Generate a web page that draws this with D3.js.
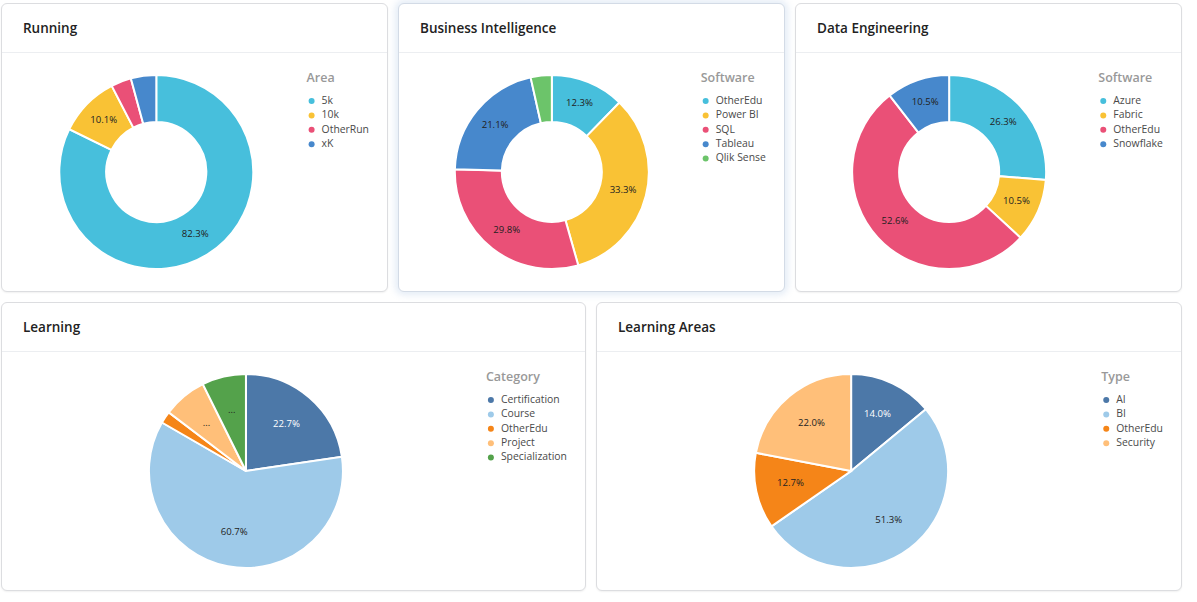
<!DOCTYPE html>
<html>
<head>
<meta charset="utf-8">
<script src="https://cdn.jsdelivr.net/npm/d3@7"></script>
<style>
  body { margin: 0; background: #fff; font-family: "Segoe UI", "Open Sans", "Noto Sans", sans-serif; }
  .card { position: absolute; background: #fff; border: 1px solid #dcdde0; border-radius: 6px;
          box-sizing: border-box; box-shadow: 0 1px 2px rgba(0,0,0,0.06); overflow: hidden; }
  .card.active { box-shadow: 0 0 7px 3px rgba(120,160,210,0.2); border-color: #d3dbe6; }
  .head { height: 49px; border-bottom: 1px solid #eceef1; box-sizing: border-box;
          padding-left: 21px; line-height: 48px; font-size: 13.5px; font-weight: 600; color: #222; }
  svg { display: block; }
</style>
</head>
<body>
<div id="board"></div>
<script>
// data
var runningCats = ["5k", "10k", "OtherRun", "xK"];
var runningVals = [195, 24, 8, 10];

var biCats = ["OtherEdu", "Power BI", "SQL", "Tableau", "Qlik Sense"];
var biVals = [7, 19, 17, 12, 2];

var deCats = ["Azure", "Fabric", "OtherEdu", "Snowflake"];
var deVals = [5, 2, 10, 2];

var learnCats = ["Certification", "Course", "OtherEdu", "Project", "Specialization"];
var learnVals = [34, 91, 3, 11, 11];

var areaCats = ["AI", "BI", "OtherEdu", "Security"];
var areaVals = [21, 77, 19, 33];

var donutColors = ["#47bfdc", "#f9c235", "#ea5077", "#4788cc", "#6cc46a"];
var pieColors = ["#4c78a8", "#9ecae9", "#f58518", "#ffbf79", "#54a24b"];

// layout of the board
var cardH = 289, headH = 49;
var board = d3.select("#board");

function luminance(c) {
  var rgb = d3.rgb(c);
  function ch(v) { v = v / 255; return v <= 0.03928 ? v / 12.92 : Math.pow((v + 0.055) / 1.055, 2.4); }
  return 0.2126 * ch(rgb.r) + 0.7152 * ch(rgb.g) + 0.0722 * ch(rgb.b);
}

function drawCard(opt) {
  var card = board.append("div")
    .attr("class", "card" + (opt.active ? " active" : ""))
    .style("left", opt.x + "px").style("top", opt.y + "px")
    .style("width", opt.w + "px").style("height", cardH + "px");
  card.append("div").attr("class", "head").text(opt.title);

  var bw = opt.w - 2, bh = cardH - headH - 2;
  var svg = card.append("svg").attr("width", bw).attr("height", bh);

  var color = d3.scaleOrdinal().domain(opt.cats).range(opt.colors);

  // legend, right aligned
  var legend = svg.append("g");
  legend.append("text")
    .attr("x", 0).attr("y", 26)
    .attr("dominant-baseline", "middle")
    .style("font-size", "12.5px").style("font-weight", 600).style("fill", "#999")
    .text(opt.legendTitle);
  var item = legend.selectAll("g.item").data(opt.cats).enter().append("g")
    .attr("class", "item")
    .attr("transform", function(d, i) { return "translate(0," + (48 + i * 14.4) + ")"; });
  item.append("circle").attr("cx", 5).attr("cy", 0).attr("r", 3).attr("fill", function(d) { return color(d); });
  item.append("text").attr("x", 15).attr("y", 0)
    .attr("dominant-baseline", "middle")
    .style("font-size", "10.4px").style("fill", "#4a4a4a")
    .text(function(d) { return d; });
  var lw = legend.node().getBBox().width;
  var lx = bw - 18 - lw;
  legend.attr("transform", "translate(" + lx + ",0)");

  // pie / donut
  var R = 97;
  var cx = lx / 2 + 2, cy = bh / 2;
  var total = d3.sum(opt.vals);
  var rows = opt.cats.map(function(c, i) { return { cat: c, value: opt.vals[i] }; });
  var pie = d3.pie().sort(null).value(function(d) { return d.value; });
  var arc = d3.arc().innerRadius(opt.inner).outerRadius(R);
  var lr = opt.inner > 0 ? (opt.inner + R) / 2 : R * 0.64;
  var labelArc = d3.arc().innerRadius(lr).outerRadius(lr);

  var g = svg.append("g").attr("transform", "translate(" + cx + "," + cy + ")");
  var arcs = pie(rows);
  g.selectAll("path").data(arcs).enter().append("path")
    .attr("d", arc)
    .attr("fill", function(d) { return color(d.data.cat); })
    .attr("stroke", "#fff").attr("stroke-width", 2);

  g.selectAll("text").data(arcs).enter().append("text")
    .attr("transform", function(d) { return "translate(" + labelArc.centroid(d) + ")"; })
    .attr("text-anchor", "middle").attr("dominant-baseline", "middle")
    .style("font-size", "9.6px")
    .style("fill", function(d) { return luminance(color(d.data.cat)) < 0.2 ? "#fff" : "#222"; })
    .text(function(d) {
      var len = (d.endAngle - d.startAngle) * lr;
      if (len < 20) return "";
      if (len < 40) return "\u2026";
      return d3.format(".1%")(d.data.value / total);
    });
}

drawCard({ title: "Running", legendTitle: "Area", cats: runningCats, vals: runningVals,
  colors: donutColors, inner: 50, x: 1, y: 3, w: 387 });
drawCard({ title: "Business Intelligence", legendTitle: "Software", cats: biCats, vals: biVals,
  colors: donutColors, inner: 50, x: 398, y: 3, w: 387, active: true });
drawCard({ title: "Data Engineering", legendTitle: "Software", cats: deCats, vals: deVals,
  colors: donutColors, inner: 50, x: 795, y: 3, w: 387 });
drawCard({ title: "Learning", legendTitle: "Category", cats: learnCats, vals: learnVals,
  colors: pieColors, inner: 0, x: 1, y: 302, w: 585 });
drawCard({ title: "Learning Areas", legendTitle: "Type", cats: areaCats, vals: areaVals,
  colors: pieColors, inner: 0, x: 596, y: 302, w: 586 });
</script>
</body>
</html>
